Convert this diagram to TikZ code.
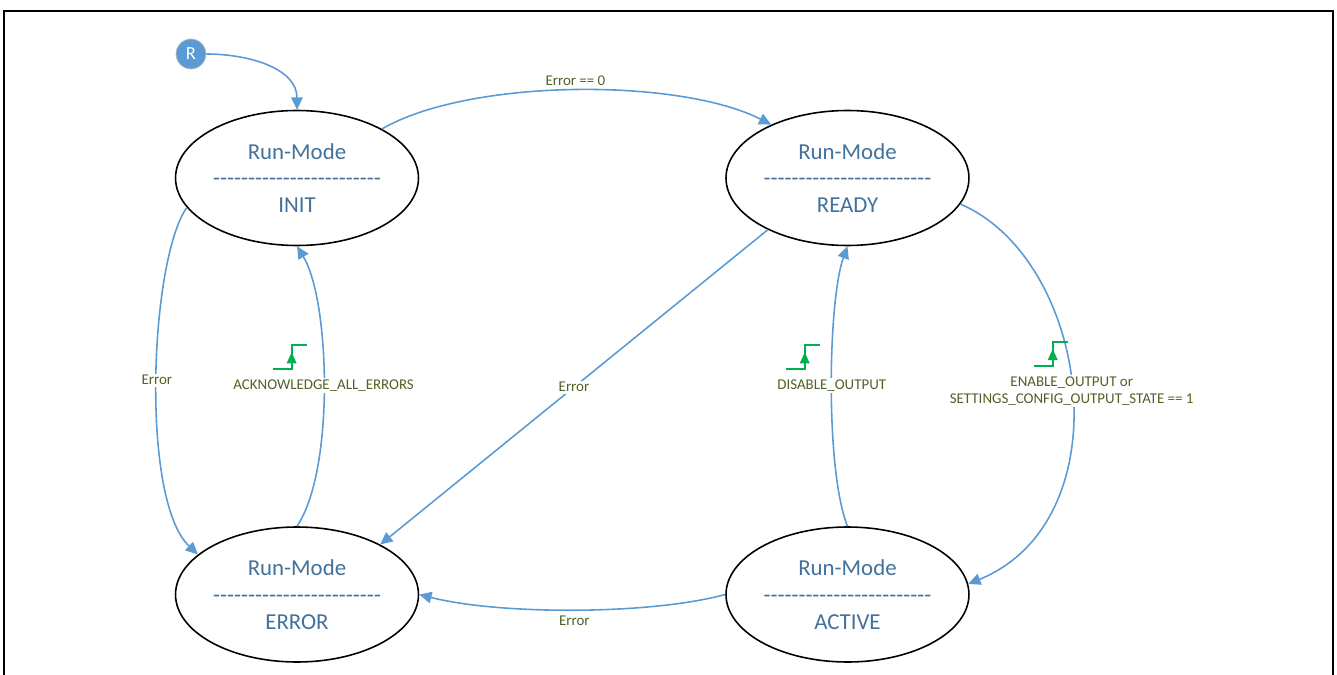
\documentclass[tikz,border=0pt]{standalone}
\usepackage{fontspec}
\setmainfont{Carlito}
\usetikzlibrary{shapes.geometric,arrows.meta,positioning}
\definecolor{edgeblue}{HTML}{5B9BD5}
\definecolor{textblue}{HTML}{41719C}
\definecolor{lblgreen}{HTML}{4F6228}
\definecolor{stepgreen}{HTML}{00B050}
\newcommand{\dashline}{\foreach\i in {1,...,24}{-}}

\begin{document}
\begin{tikzpicture}[
    x=0.02cm, y=-0.02cm,
    state/.style={ellipse, draw, line width=0.9pt, minimum width=4.86cm, minimum height=2.7cm, inner sep=0pt, align=center, text=textblue, font=\fontsize{13}{15.3}\selectfont},
    trans/.style={draw=edgeblue, line width=0.9pt, -{Triangle[length=7pt,width=6.5pt]}},
    lbl/.style={text=lblgreen, font=\fontsize{8.5}{10}\selectfont, fill=white, inner sep=1pt, align=center},
    reset/.style={circle, fill=edgeblue, draw=black!25, minimum size=0.6cm, inner sep=0pt, text=white, font=\fontsize{10.5}{12}\selectfont},
    risingedge/.pic={
        \draw[stepgreen, line width=1.2pt] (-19,12) -- (0,12) -- (0,-12) -- (15,-12);
        \fill[stepgreen] (-5,6) -- (5,6) -- (0,-5) -- cycle;
    }
]
    \useasboundingbox (0,0) rectangle (1337,675);
    \draw[line width=0.8pt] (4,11) rectangle (1333,700);

    \node[reset] (rst) at (191,54) {R};
    \node[state] (init) at (297,178) {Run-Mode\\\dashline\\INIT};
    \node[state, right=6.12cm of init] (ready) {Run-Mode\\\dashline\\READY};
    \node[state, below=5.6cm of init] (error) {Run-Mode\\\dashline\\ERROR};
    \node[state, below=5.6cm of ready] (active) {Run-Mode\\\dashline\\ACTIVE};

    \draw[trans] (rst) to[out=0, in=90] (init.north);
    \draw[trans] (init.30) .. controls (470,78) and (680,78) .. node[lbl, above=1pt, fill=none] {Error == 0} (ready.145);
    \draw[trans] (init.195) .. controls (150,260) and (140,500) .. node[lbl] {Error} (error.158);
    \draw[trans] (error.north) .. controls (335,470) and (330,300) .. node[lbl] (ack) {ACKNOWLEDGE\_ALL\_ERRORS} (init.south);
    \draw[trans] (ready.213) -- node[lbl] {Error} (error.31);
    \draw[trans] (active.north) .. controls (825,470) and (828,300) .. node[lbl] (dis) {DISABLE\_OUTPUT} (ready.south);
    \draw[trans] (ready.-13) .. controls (1090,260) and (1125,520) .. node[lbl] (ena) {ENABLE\_OUTPUT or\\SETTINGS\_CONFIG\_OUTPUT\_STATE == 1} (active.5);
    \draw[trans] (active.180) .. controls (650,615) and (500,615) .. node[lbl, below=2pt, fill=none] {Error} (error.east);

    % rising edge triggers
    \pic at ([shift={(-32,-28)}]ack.center) {risingedge};
    \pic at ([shift={(-27,-28)}]dis.center) {risingedge};
    \pic at ([shift={(-19,-37)}]ena.center) {risingedge};
\end{tikzpicture}
\end{document}
